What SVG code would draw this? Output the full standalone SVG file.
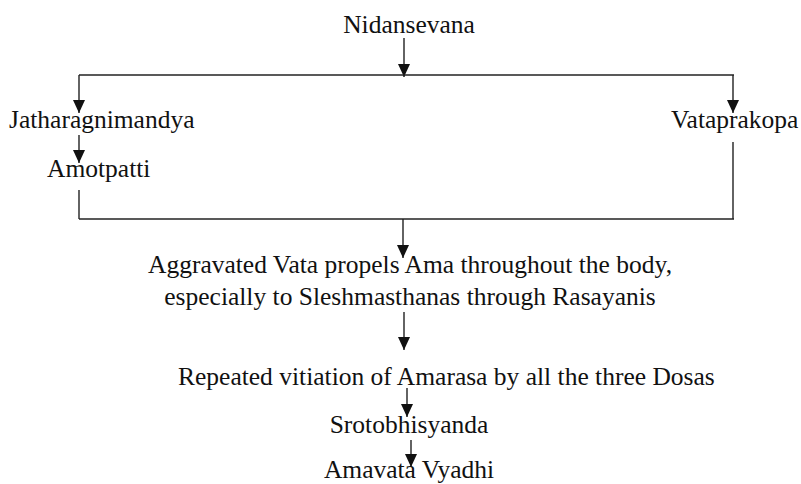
<svg xmlns="http://www.w3.org/2000/svg" width="801" height="484" viewBox="0 0 801 484">
<style>
  text { font-family: 'Liberation Serif', Tinos, 'Times New Roman', Times, serif; font-size: 25.5px; fill: #111; }
  .c { text-anchor: middle; }
  .ln { stroke: #222; stroke-width: 1.4; fill: none; }
  .ar { stroke: #222; stroke-width: 1.4; fill: none; marker-end: url(#ah); }
</style>
<defs>
  <marker id="ah" markerUnits="userSpaceOnUse" markerWidth="13" markerHeight="12" refX="13" refY="6" orient="auto">
    <path d="M0,0 L13,6 L0,12 z" fill="#111"/>
  </marker>
</defs>
<rect width="801" height="484" fill="#fff"/>
<g id="connectors">
  <line class="ar" x1="404" y1="38" x2="404" y2="77"/>
  <line class="ln" x1="79" y1="75" x2="734" y2="75"/>
  <line class="ar" x1="79" y1="75" x2="79" y2="113"/>
  <line class="ar" x1="733" y1="75" x2="733" y2="113"/>
  <line class="ar" x1="79" y1="135" x2="79" y2="163"/>
  <line class="ln" x1="79" y1="190" x2="79" y2="219"/>
  <line class="ln" x1="733" y1="142" x2="733" y2="219"/>
  <line class="ln" x1="79" y1="219" x2="734" y2="219"/>
  <line class="ar" x1="403" y1="219" x2="403" y2="258"/>
  <line class="ar" x1="404" y1="312" x2="404" y2="350"/>
  <line class="ar" x1="407" y1="388" x2="407" y2="417"/>
  <line class="ar" x1="411" y1="440" x2="411" y2="467"/>
</g>
<g id="nidansevana"><text class="c" x="409" y="33">Nidansevana</text></g>
<g id="jatharagnimandya"><text x="9" y="128">Jatharagnimandya</text></g>
<g id="vataprakopa"><text x="671" y="128">Vataprakopa</text></g>
<g id="amotpatti"><text x="47" y="177">Amotpatti</text></g>
<g id="aggravated">
  <text class="c" x="410" y="273">Aggravated Vata propels Ama throughout the body,</text>
  <text class="c" x="410" y="305">especially to Sleshmasthanas through Rasayanis</text>
</g>
<g id="repeated"><text x="178" y="385">Repeated vitiation of Amarasa by all the three Dosas</text></g>
<g id="srotobhisyanda"><text class="c" x="409" y="433">Srotobhisyanda</text></g>
<g id="amavata"><text class="c" x="409" y="478">Amavata Vyadhi</text></g>
</svg>
